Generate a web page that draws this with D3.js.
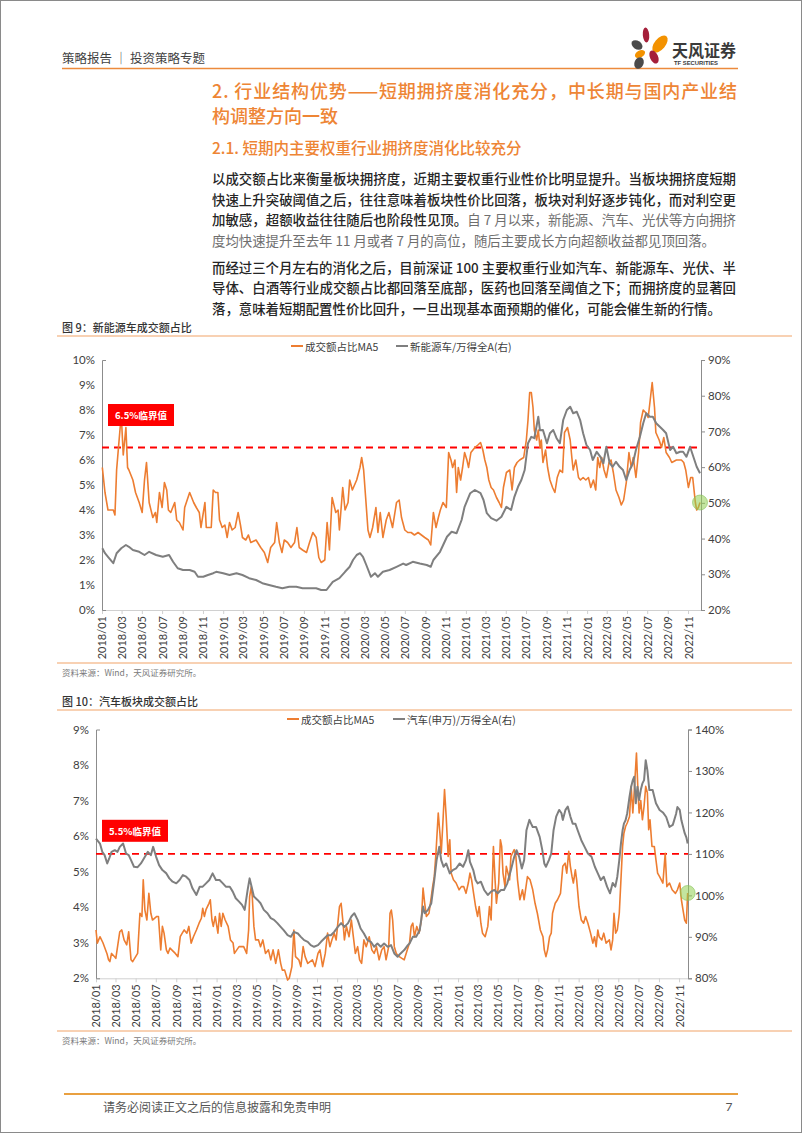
<!DOCTYPE html>
<html><head><meta charset="utf-8">
<script src="https://cdn.jsdelivr.net/npm/d3@7/dist/d3.min.js"></script>
<style>html,body{margin:0;padding:0;background:#fff}svg{display:block}</style>
</head><body>
<svg id="page" width="802" height="1133" xmlns="http://www.w3.org/2000/svg"></svg>
<script>
// ---------------- DATA ----------------
const xTickLabels = ["2018/01","2018/03","2018/05","2018/07","2018/09","2018/11","2019/01","2019/03","2019/05","2019/07","2019/09","2019/11","2020/01","2020/03","2020/05","2020/07","2020/09","2020/11","2021/01","2021/03","2021/05","2021/07","2021/09","2021/11","2022/01","2022/03","2022/05","2022/07","2022/09","2022/11"];
const leftTicks1 = [0,1,2,3,4,5,6,7,8,9,10];
const rightTicks1 = [20,30,40,50,60,70,80,90];
const leftTicks2 = [2,3,4,5,6,7,8,9];
const rightTicks2 = [80,90,100,110,120,130,140];
const legend1 = ["成交额占比MA5","新能源车/万得全A(右)"];
const legend2 = ["成交额占比MA5","汽车(申万)/万得全A(右)"];
const threshold1 = 6.5, threshold2 = 5.5;
const label1 = {text:"6.5%临界值", value:7.8};
const label2 = {text:"5.5%临界值", value:6.15};

// 图9 新能源车 成交额占比MA5 (%)
const nevShare = [["2018-01-02",5.7],["2018-01-10",4.7],["2018-01-19",4.0],["2018-02-04",4.0],["2018-02-09",3.8],["2018-02-14",5.6],["2018-02-19",6.4],["2018-02-26",7.5],["2018-02-28",7.8],["2018-03-06",6.2],["2018-03-14",7.3],["2018-03-19",5.7],["2018-03-23",5.6],["2018-04-04",5.2],["2018-04-12",4.7],["2018-04-23",4.3],["2018-05-02",3.9],["2018-05-09",5.2],["2018-05-15",5.9],["2018-05-23",4.3],["2018-06-03",3.7],["2018-06-11",3.9],["2018-06-15",3.5],["2018-06-23",4.7],["2018-07-01",4.1],["2018-07-08",5.1],["2018-07-15",4.8],["2018-07-20",4.0],["2018-07-27",3.9],["2018-08-08",4.3],["2018-08-14",3.6],["2018-08-22",3.5],["2018-09-02",3.2],["2018-09-07",4.1],["2018-09-22",4.7],["2018-10-04",4.3],["2018-10-12",4.1],["2018-10-21",3.9],["2018-10-26",3.3],["2018-11-07",4.3],["2018-11-11",3.3],["2018-11-26",3.3],["2018-12-02",4.8],["2018-12-09",4.7],["2018-12-16",4.7],["2018-12-21",3.6],["2018-12-29",3.3],["2019-01-06",3.4],["2019-01-13",2.9],["2019-01-20",3.5],["2019-01-28",3.2],["2019-02-06",3.3],["2019-02-15",3.9],["2019-02-22",3.4],["2019-02-28",2.9],["2019-03-10",2.8],["2019-03-18",3.0],["2019-03-25",2.7],["2019-04-10",2.8],["2019-04-24",2.5],["2019-05-05",2.3],["2019-05-15",1.9],["2019-05-24",2.5],["2019-06-05",2.7],["2019-06-11",3.5],["2019-06-19",2.7],["2019-06-27",2.3],["2019-07-04",2.8],["2019-07-14",2.7],["2019-07-24",2.5],["2019-08-04",2.7],["2019-08-11",3.3],["2019-08-18",2.5],["2019-08-28",2.4],["2019-09-09",2.3],["2019-09-18",2.7],["2019-09-28",3.1],["2019-10-08",2.9],["2019-10-16",2.1],["2019-10-23",1.9],["2019-11-03",2.0],["2019-11-10",3.5],["2019-11-17",2.4],["2019-11-25",4.5],["2019-12-06",3.9],["2019-12-13",4.0],["2019-12-17",3.2],["2019-12-27",4.9],["2020-01-03",4.0],["2020-01-12",4.3],["2020-01-17",5.2],["2020-01-25",4.8],["2020-02-07",5.2],["2020-02-17",5.7],["2020-02-22",6.1],["2020-02-28",5.6],["2020-03-05",4.5],["2020-03-12",3.2],["2020-03-18",2.9],["2020-03-26",3.3],["2020-04-05",4.1],["2020-04-11",3.1],["2020-04-18",3.9],["2020-04-26",2.9],["2020-05-06",3.6],["2020-05-14",3.9],["2020-05-25",3.3],["2020-06-06",4.3],["2020-06-14",4.4],["2020-06-21",3.7],["2020-07-01",3.2],["2020-07-10",3.1],["2020-07-20",3.1],["2020-07-30",3.0],["2020-08-10",3.1],["2020-08-20",3.0],["2020-08-30",2.9],["2020-09-10",2.8],["2020-09-17",2.6],["2020-09-25",3.9],["2020-10-03",3.3],["2020-10-10",3.7],["2020-10-16",4.0],["2020-10-24",4.3],["2020-11-03",4.1],["2020-11-10",6.3],["2020-11-17",6.0],["2020-11-22",5.7],["2020-11-29",6.0],["2020-12-04",4.7],["2020-12-09",5.7],["2020-12-16",5.2],["2020-12-22",5.7],["2020-12-28",6.3],["2021-01-04",6.0],["2021-01-09",5.7],["2021-01-16",6.3],["2021-01-28",6.5],["2021-02-06",6.6],["2021-02-14",6.7],["2021-02-21",6.4],["2021-02-27",6.0],["2021-03-05",5.7],["2021-03-11",5.2],["2021-03-18",4.9],["2021-03-25",4.8],["2021-04-03",4.5],["2021-04-11",4.3],["2021-04-18",4.1],["2021-04-24",4.9],["2021-05-03",5.5],["2021-05-13",5.6],["2021-05-20",4.8],["2021-05-27",5.7],["2021-06-04",5.9],["2021-06-12",6.0],["2021-06-24",6.1],["2021-07-02",6.8],["2021-07-07",7.6],["2021-07-12",8.7],["2021-07-17",8.7],["2021-07-22",8.1],["2021-07-26",7.2],["2021-08-02",6.8],["2021-08-07",7.2],["2021-08-12",6.5],["2021-08-16",6.8],["2021-08-21",5.9],["2021-08-29",6.4],["2021-09-04",5.7],["2021-09-11",5.2],["2021-09-19",4.9],["2021-09-26",4.7],["2021-10-03",5.3],["2021-10-11",5.6],["2021-10-19",5.5],["2021-10-25",7.1],["2021-11-03",7.3],["2021-11-11",6.8],["2021-11-16",6.1],["2021-11-20",5.6],["2021-11-28",6.0],["2021-12-06",5.3],["2021-12-12",5.2],["2021-12-20",5.3],["2021-12-28",5.2],["2022-01-05",5.3],["2022-01-12",4.9],["2022-01-20",5.2],["2022-01-27",4.8],["2022-02-02",6.1],["2022-02-08",5.7],["2022-02-14",6.1],["2022-02-21",5.6],["2022-02-28",5.3],["2022-03-08",5.9],["2022-03-14",6.0],["2022-03-21",5.5],["2022-03-29",4.8],["2022-04-07",4.5],["2022-04-14",4.2],["2022-04-21",4.4],["2022-04-29",5.1],["2022-05-07",6.3],["2022-05-14",5.7],["2022-05-20",6.1],["2022-05-28",5.3],["2022-06-05",6.3],["2022-06-11",7.5],["2022-06-19",8.0],["2022-06-26",7.9],["2022-07-04",7.7],["2022-07-10",8.4],["2022-07-16",9.1],["2022-07-23",8.1],["2022-07-27",7.1],["2022-08-06",6.8],["2022-08-13",6.5],["2022-08-20",6.9],["2022-08-27",6.3],["2022-09-06",6.1],["2022-09-13",5.9],["2022-09-27",6.0],["2022-10-12",6.0],["2022-10-19",5.9],["2022-10-25",5.6],["2022-11-02",4.9],["2022-11-09",5.3],["2022-11-15",5.3],["2022-11-19",4.8],["2022-11-23",4.3],["2022-11-27",4.0],["2022-12-02",4.1],["2022-12-07",4.3]];

// 图9 新能源车/万得全A (%, 右轴)
const nevRelative = [["2018-01-02",37.3],["2018-01-10",35.9],["2018-01-19",34.9],["2018-02-04",33.1],["2018-02-14",35.9],["2018-02-28",37.3],["2018-03-14",38.2],["2018-03-23",37.7],["2018-04-04",36.8],["2018-04-23",36.3],["2018-05-09",35.4],["2018-05-23",36.3],["2018-06-13",35.4],["2018-07-03",34.9],["2018-07-22",35.4],["2018-08-03",33.5],["2018-08-17",31.7],["2018-09-02",31.2],["2018-09-22",31.2],["2018-10-07",30.7],["2018-10-17",29.3],["2018-11-02",29.3],["2018-11-16",29.8],["2018-12-02",30.3],["2018-12-11",30.7],["2019-01-01",30.3],["2019-01-20",29.8],["2019-02-10",30.3],["2019-02-28",29.8],["2019-03-20",28.9],["2019-04-10",28.4],["2019-04-29",27.5],["2019-05-19",27.0],["2019-06-09",26.5],["2019-06-28",26.1],["2019-07-19",26.5],["2019-08-09",26.5],["2019-08-28",26.1],["2019-09-18",26.1],["2019-10-08",26.1],["2019-10-23",25.6],["2019-11-08",25.6],["2019-11-27",27.9],["2019-12-17",28.9],["2020-01-03",30.7],["2020-01-17",32.1],["2020-01-27",34.0],["2020-02-07",35.4],["2020-02-17",35.9],["2020-02-26",34.9],["2020-03-07",32.6],["2020-03-21",29.3],["2020-04-02",30.3],["2020-04-11",29.3],["2020-04-26",30.7],["2020-05-16",31.2],["2020-06-06",32.1],["2020-06-26",33.0],["2020-07-05",32.6],["2020-07-25",33.5],["2020-08-15",33.0],["2020-09-05",32.6],["2020-09-17",32.1],["2020-09-25",34.0],["2020-10-15",36.3],["2020-11-05",40.5],["2020-11-19",41.9],["2020-12-04",41.5],["2020-12-19",45.2],["2020-12-28",48.9],["2021-01-14",52.7],["2021-01-28",53.6],["2021-02-14",52.7],["2021-02-23",50.8],["2021-03-05",47.1],["2021-03-18",45.7],["2021-04-03",45.0],["2021-04-18",46.1],["2021-05-03",48.9],["2021-05-17",48.0],["2021-05-27",51.7],["2021-06-07",54.5],["2021-06-17",56.4],["2021-06-27",59.2],["2021-07-07",66.7],["2021-07-17",68.5],["2021-07-26",68.1],["2021-08-07",74.1],["2021-08-12",70.3],["2021-08-21",70.4],["2021-09-02",66.7],["2021-09-11",69.5],["2021-09-21",70.4],["2021-10-01",68.1],["2021-10-11",66.7],["2021-10-21",73.2],["2021-11-01",76.0],["2021-11-11",76.9],["2021-11-20",75.1],["2021-12-01",75.5],["2021-12-11",73.2],["2021-12-20",69.5],["2021-12-30",66.2],["2022-01-10",64.8],["2022-01-18",62.0],["2022-01-30",64.3],["2022-02-10",62.9],["2022-02-19",61.1],["2022-02-28",65.7],["2022-03-10",61.1],["2022-03-19",60.1],["2022-03-29",61.5],["2022-04-09",60.1],["2022-04-19",59.2],["2022-04-29",56.4],["2022-05-09",59.2],["2022-05-19",61.1],["2022-05-28",64.8],["2022-06-09",68.5],["2022-06-19",72.3],["2022-06-28",75.1],["2022-07-09",74.1],["2022-07-18",74.1],["2022-07-28",72.3],["2022-08-08",71.3],["2022-08-18",70.4],["2022-08-27",69.5],["2022-09-08",64.8],["2022-09-17",65.7],["2022-09-27",63.9],["2022-10-08",64.3],["2022-10-17",64.3],["2022-10-27",62.9],["2022-11-07",65.7],["2022-11-17",62.9],["2022-11-27",60.1],["2022-12-07",58.3]];

// 图10 汽车 成交额占比MA5 (%)
const autoShare = [["2018-01-01",3.36],["2018-01-05",2.99],["2018-01-13",3.17],["2018-01-22",3.0],["2018-02-03",2.7],["2018-02-08",2.52],["2018-02-12",2.47],["2018-02-17",2.7],["2018-02-27",2.6],["2018-03-02",2.56],["2018-03-14",3.31],["2018-03-20",3.36],["2018-03-27",3.08],["2018-04-04",2.94],["2018-04-10",3.31],["2018-04-17",2.52],["2018-04-22",2.47],["2018-05-07",2.7],["2018-05-14",3.83],["2018-05-20",3.74],["2018-05-24",4.77],["2018-05-29",3.92],["2018-06-04",3.64],["2018-06-10",4.39],["2018-06-16",3.83],["2018-06-21",3.64],["2018-07-04",3.74],["2018-07-09",3.74],["2018-07-16",2.8],["2018-07-21",3.46],["2018-07-26",3.27],["2018-08-02",2.8],["2018-08-07",2.7],["2018-08-13",2.85],["2018-08-29",2.7],["2018-09-06",2.61],["2018-09-13",3.17],["2018-09-19",3.27],["2018-09-25",3.36],["2018-10-03",3.27],["2018-10-09",3.46],["2018-10-16",2.99],["2018-10-23",3.17],["2018-11-01",3.36],["2018-11-09",3.55],["2018-11-16",3.69],["2018-11-20",3.97],["2018-11-25",3.74],["2018-11-30",3.93],["2018-12-09",4.11],["2018-12-13",4.21],["2018-12-18",3.64],["2018-12-22",3.46],["2018-12-28",3.74],["2019-01-05",3.27],["2019-01-10",3.83],["2019-01-15",3.46],["2019-01-20",3.83],["2019-01-27",3.64],["2019-02-05",3.46],["2019-02-12",3.08],["2019-02-20",2.99],["2019-02-24",2.7],["2019-03-10",2.89],["2019-03-24",2.89],["2019-04-02",2.7],["2019-04-08",3.36],["2019-04-11",4.3],["2019-04-16",4.58],["2019-04-19",4.3],["2019-04-24",3.46],["2019-04-29",3.08],["2019-05-08",3.08],["2019-05-14",2.89],["2019-05-21",3.08],["2019-05-29",2.7],["2019-06-07",2.8],["2019-06-14",2.52],["2019-06-21",2.8],["2019-06-29",2.42],["2019-07-07",2.8],["2019-07-14",2.42],["2019-07-19",2.23],["2019-07-26",2.23],["2019-08-04",1.95],["2019-08-09",2.0],["2019-08-17",2.33],["2019-08-23",3.36],["2019-08-28",2.61],["2019-09-07",2.52],["2019-09-13",2.33],["2019-09-20",2.89],["2019-09-26",2.61],["2019-10-04",2.42],["2019-10-18",2.52],["2019-10-26",2.33],["2019-11-04",2.7],["2019-11-10",2.8],["2019-11-18",2.33],["2019-11-26",2.7],["2019-12-03",3.27],["2019-12-10",2.89],["2019-12-16",3.08],["2019-12-23",3.27],["2019-12-29",3.08],["2020-01-08",4.02],["2020-01-13",4.11],["2020-01-18",3.64],["2020-01-23",3.08],["2020-01-29",3.46],["2020-02-06",3.17],["2020-02-13",3.64],["2020-02-19",3.17],["2020-02-25",2.7],["2020-03-03",2.89],["2020-03-09",2.52],["2020-03-15",2.42],["2020-03-22",3.08],["2020-03-29",2.89],["2020-04-07",3.17],["2020-04-15",2.8],["2020-04-22",2.7],["2020-04-29",2.89],["2020-05-07",2.52],["2020-05-15",2.8],["2020-05-22",2.89],["2020-05-28",2.52],["2020-06-05",2.89],["2020-06-09",3.83],["2020-06-13",3.92],["2020-06-17",3.64],["2020-06-22",2.89],["2020-06-28",2.7],["2020-07-07",2.61],["2020-07-22",2.52],["2020-08-02",2.85],["2020-08-07",2.99],["2020-08-12",3.46],["2020-08-17",3.55],["2020-08-22",3.17],["2020-08-29",3.46],["2020-09-05",3.27],["2020-09-12",3.64],["2020-09-17",4.54],["2020-09-22",4.11],["2020-09-27",3.74],["2020-10-05",3.83],["2020-10-12",4.3],["2020-10-16",4.58],["2020-10-21",4.86],["2020-10-26",5.52],["2020-11-02",6.65],["2020-11-07",6.08],["2020-11-11",5.52],["2020-11-16",6.37],["2020-11-21",7.31],["2020-11-26",6.55],["2020-12-02",5.43],["2020-12-07",5.9],["2020-12-11",4.96],["2020-12-18",4.77],["2020-12-26",4.68],["2021-01-04",4.49],["2021-01-11",4.58],["2021-01-18",4.58],["2021-01-25",4.39],["2021-02-01",4.68],["2021-02-06",4.96],["2021-02-11",4.77],["2021-02-17",4.39],["2021-02-23",4.02],["2021-03-01",3.74],["2021-03-06",4.02],["2021-03-11",3.55],["2021-03-16",3.27],["2021-03-24",3.17],["2021-04-01",3.46],["2021-04-06",4.02],["2021-04-11",3.64],["2021-04-18",5.71],["2021-04-23",4.77],["2021-04-27",4.11],["2021-05-04",4.68],["2021-05-09",5.9],["2021-05-13",5.71],["2021-05-17",4.96],["2021-05-23",4.58],["2021-05-27",5.15],["2021-06-06",4.77],["2021-06-10",5.43],["2021-06-20",5.62],["2021-06-25",5.43],["2021-06-30",4.77],["2021-07-07",4.21],["2021-07-15",4.49],["2021-07-20",4.21],["2021-07-30",4.86],["2021-08-07",4.77],["2021-08-15",4.49],["2021-08-22",4.11],["2021-08-29",3.83],["2021-09-07",3.36],["2021-09-15",3.17],["2021-09-19",2.8],["2021-09-24",2.61],["2021-09-29",2.8],["2021-10-05",3.17],["2021-10-10",3.27],["2021-10-14",3.83],["2021-10-22",4.11],["2021-10-29",4.21],["2021-11-07",4.39],["2021-11-14",5.15],["2021-11-21",5.24],["2021-11-26",4.96],["2021-12-02",5.57],["2021-12-07",5.15],["2021-12-12",4.86],["2021-12-16",4.68],["2021-12-22",5.05],["2021-12-26",4.77],["2022-01-02",4.02],["2022-01-09",3.64],["2022-01-16",3.55],["2022-01-22",3.74],["2022-01-29",3.55],["2022-02-06",3.27],["2022-02-13",2.99],["2022-02-18",3.17],["2022-02-23",2.89],["2022-02-28",3.36],["2022-03-04",3.17],["2022-03-12",3.08],["2022-03-18",3.27],["2022-03-25",2.99],["2022-04-04",3.08],["2022-04-09",2.8],["2022-04-14",3.08],["2022-04-18",3.83],["2022-04-23",3.27],["2022-04-28",3.36],["2022-05-04",3.83],["2022-05-09",4.77],["2022-05-14",5.71],["2022-05-18",6.08],["2022-05-23",6.27],["2022-05-28",6.37],["2022-06-04",6.55],["2022-06-09",7.4],["2022-06-14",6.65],["2022-06-18",7.22],["2022-06-25",8.34],["2022-06-29",7.4],["2022-07-03",6.65],["2022-07-08",7.0],["2022-07-13",6.46],["2022-07-18",6.84],["2022-07-23",7.4],["2022-07-28",7.22],["2022-08-01",6.18],["2022-08-05",6.46],["2022-08-11",5.71],["2022-08-18",5.71],["2022-08-23",5.33],["2022-08-28",4.96],["2022-09-03",4.86],["2022-09-13",4.68],["2022-09-20",5.52],["2022-09-25",4.58],["2022-10-03",4.68],["2022-10-11",4.49],["2022-10-21",4.39],["2022-10-27",4.49],["2022-11-03",4.68],["2022-11-08",4.21],["2022-11-13",3.92],["2022-11-18",3.64],["2022-11-23",3.55],["2022-11-27",4.4]];

// 图10 汽车(申万)/万得全A (%, 右轴)
const autoRelative = [["2018-01-01",113.7],["2018-01-13",112.5],["2018-01-20",110.5],["2018-01-27",109.7],["2018-02-04",107.7],["2018-02-10",108.9],["2018-02-17",110.5],["2018-02-27",110.9],["2018-03-07",110.5],["2018-03-14",111.7],["2018-03-24",112.5],["2018-04-02",110.1],["2018-04-10",109.7],["2018-04-17",108.5],["2018-04-26",106.9],["2018-05-07",106.8],["2018-05-17",107.7],["2018-05-26",108.9],["2018-06-07",110.5],["2018-06-16",109.7],["2018-06-23",111.7],["2018-07-02",109.3],["2018-07-11",107.3],["2018-07-21",106.1],["2018-08-02",105.3],["2018-08-11",104.1],["2018-08-21",103.3],["2018-09-01",102.9],["2018-09-11",103.7],["2018-09-21",104.9],["2018-10-01",104.5],["2018-10-11",103.7],["2018-10-20",101.7],["2018-11-01",100.1],["2018-11-11",102.1],["2018-11-20",102.1],["2018-11-30",102.9],["2018-12-10",103.7],["2018-12-20",105.3],["2018-12-30",103.7],["2019-01-10",103.7],["2019-01-20",102.9],["2019-01-29",102.1],["2019-02-10",102.1],["2019-02-19",100.9],["2019-02-28",99.3],["2019-03-10",98.5],["2019-03-19",97.7],["2019-03-27",96.5],["2019-04-05",101.3],["2019-04-11",104.1],["2019-04-17",102.1],["2019-04-24",99.7],["2019-05-05",98.9],["2019-05-14",98.1],["2019-05-24",96.5],["2019-06-04",95.7],["2019-06-14",94.5],["2019-06-24",94.1],["2019-07-04",93.3],["2019-07-14",92.4],["2019-07-23",91.6],["2019-08-04",90.4],["2019-08-14",90.0],["2019-08-23",91.2],["2019-09-04",90.8],["2019-09-13",90.0],["2019-09-23",89.2],["2019-10-04",88.8],["2019-10-13",88.0],["2019-10-23",87.6],["2019-11-04",88.0],["2019-11-13",88.8],["2019-11-23",89.6],["2019-12-03",90.4],["2019-12-13",90.4],["2019-12-23",91.2],["2020-01-03",92.4],["2020-01-13",93.3],["2020-01-23",92.4],["2020-02-03",93.3],["2020-02-13",94.9],["2020-02-22",95.7],["2020-03-03",94.1],["2020-03-12",92.0],["2020-03-22",90.8],["2020-04-02",89.2],["2020-04-12",88.8],["2020-04-22",87.6],["2020-05-02",88.4],["2020-05-12",87.6],["2020-05-22",88.4],["2020-06-02",87.6],["2020-06-12",88.0],["2020-06-22",86.0],["2020-07-02",85.2],["2020-07-11",86.0],["2020-07-22",86.8],["2020-08-02",88.0],["2020-08-07",88.4],["2020-08-17",90.0],["2020-08-27",90.0],["2020-09-07",91.6],["2020-09-17",97.3],["2020-09-22",95.7],["2020-10-02",96.5],["2020-10-12",98.1],["2020-10-21",103.7],["2020-10-28",108.5],["2020-11-05",111.7],["2020-11-11",108.5],["2020-11-18",106.9],["2020-11-26",107.7],["2020-12-07",105.3],["2020-12-16",106.1],["2020-12-26",106.5],["2021-01-06",107.7],["2021-01-16",106.9],["2021-01-25",108.5],["2021-02-01",110.9],["2021-02-06",108.1],["2021-02-16",106.1],["2021-02-23",103.7],["2021-03-01",102.9],["2021-03-11",103.3],["2021-03-21",101.3],["2021-04-01",100.1],["2021-04-11",100.9],["2021-04-21",101.3],["2021-05-01",100.5],["2021-05-11",101.3],["2021-05-20",101.3],["2021-05-30",102.9],["2021-06-10",106.1],["2021-06-20",109.3],["2021-06-27",110.9],["2021-07-05",109.3],["2021-07-13",106.5],["2021-07-20",108.5],["2021-07-27",115.7],["2021-08-05",118.2],["2021-08-10",117.3],["2021-08-15",116.5],["2021-08-25",116.5],["2021-09-05",114.1],["2021-09-13",110.9],["2021-09-19",107.7],["2021-09-24",106.9],["2021-10-03",108.5],["2021-10-10",110.1],["2021-10-17",115.7],["2021-10-25",119.0],["2021-11-03",120.6],["2021-11-10",119.8],["2021-11-14",118.2],["2021-11-22",120.6],["2021-11-29",121.4],["2021-12-07",119.0],["2021-12-14",117.3],["2021-12-22",117.3],["2021-12-29",115.7],["2022-01-09",113.3],["2022-01-19",111.7],["2022-01-29",110.1],["2022-02-09",109.3],["2022-02-19",106.9],["2022-02-28",105.3],["2022-03-09",103.7],["2022-03-18",104.5],["2022-03-28",102.1],["2022-04-06",100.5],["2022-04-14",103.0],["2022-04-22",102.1],["2022-04-28",104.5],["2022-05-04",108.5],["2022-05-09",112.5],["2022-05-14",115.7],["2022-05-18",117.3],["2022-05-23",118.1],["2022-05-28",119.8],["2022-06-04",123.8],["2022-06-09",126.2],["2022-06-14",127.8],["2022-06-18",128.6],["2022-06-23",122.2],["2022-06-28",126.2],["2022-07-03",123.0],["2022-07-08",125.4],["2022-07-13",127.0],["2022-07-18",127.8],["2022-07-23",132.6],["2022-07-28",130.2],["2022-08-03",125.4],["2022-08-13",125.4],["2022-08-18",123.8],["2022-08-23",122.2],["2022-09-03",120.6],["2022-09-13",120.0],["2022-09-23",118.9],["2022-10-03",116.5],["2022-10-13",117.0],["2022-10-23",119.7],["2022-10-27",121.3],["2022-11-03",120.6],["2022-11-08",118.1],["2022-11-18",115.0],["2022-11-23",114.0],["2022-11-27",112.5]];

// ---------------- RENDER ----------------
const parse = d3.timeParse("%Y-%m-%d");
const svg = d3.select("#page");
const CJK = "'Noto Sans CJK SC','Noto Sans',sans-serif";
const NUM = "Lato,'Noto Sans',sans-serif";
const ORANGE = "#ED7D31", GRAY = "#7F7F7F", TITLE = "#EE8535";

svg.append("rect").attr("x",0.5).attr("y",0.5).attr("width",801).attr("height",1132)
  .attr("fill","#fff").attr("stroke","#8a8a8a").attr("stroke-width",1);

// header
svg.append("text").attr("x",62).attr("y",57).attr("dominant-baseline","central")
  .attr("font-family",CJK).attr("font-size",12.5).attr("fill","#3f3f3f").text("策略报告 │ 投资策略专题");
svg.append("line").attr("x1",62).attr("x2",738).attr("y1",68.5).attr("y2",68.5)
  .attr("stroke","#EC8A3C").attr("stroke-width",1.6);

// logo
const petals = [
  {cx:646,cy:35,rx:3.2,ry:7.5,r:-5,c:"#A51F3A"},
  {cx:660,cy:44,rx:5.5,ry:10,r:40,c:"#F39200"},
  {cx:637,cy:45,rx:4.2,ry:6,r:-55,c:"#4A4A4A"},
  {cx:640,cy:54,rx:3.5,ry:5.5,r:60,c:"#F39200"},
  {cx:654,cy:57,rx:4,ry:7,r:-25,c:"#A51F3A"},
  {cx:639,cy:63,rx:4.5,ry:6,r:25,c:"#4A4A4A"}
];
petals.forEach(p=>svg.append("ellipse").attr("cx",p.cx).attr("cy",p.cy).attr("rx",p.rx).attr("ry",p.ry)
  .attr("transform",`rotate(${p.r},${p.cx},${p.cy})`).attr("fill",p.c));
svg.append("text").attr("x",672).attr("y",50).attr("dominant-baseline","central")
  .attr("font-family",CJK).attr("font-weight",700).attr("font-size",16.5).attr("fill","#3a3a3a")
  .attr("textLength",64).attr("lengthAdjust","spacingAndGlyphs").text("天风证券");
svg.append("text").attr("x",674).attr("y",63).attr("dominant-baseline","central")
  .attr("font-family","'Liberation Sans Narrow','Liberation Sans',sans-serif").attr("font-weight",700).attr("font-size",5.5).attr("fill","#3a3a3a")
  .attr("textLength",44).attr("lengthAdjust","spacingAndGlyphs").text("TF SECURITIES");

// titles
function para(y, segs, opts) {
  const t = svg.append("text").attr("x",opts.x||212).attr("y",y).attr("dominant-baseline","central")
    .attr("font-family",CJK).attr("font-size",opts.size).attr("font-weight",opts.weight||400);
  segs.forEach(s=>t.append("tspan").attr("fill",s[1]).attr("font-weight",s[2]||null).text(s[0]));
  if (opts.width) t.attr("textLength",opts.width).attr("lengthAdjust","spacing");
  return t;
}
para(90,[["2. 行业结构优势——短期拥挤度消化充分，中长期与国内产业结",TITLE]],{size:18,weight:500,width:525});
para(115,[["构调整方向一致",TITLE]],{size:18,weight:500});
para(147,[["2.1. 短期内主要权重行业拥挤度消化比较充分",TITLE]],{size:15.5,weight:500});

const DARK = "#262626", LIGHT = "#6f6f6f";
const W = 524, FS = 13.4;
para(178,[["以成交额占比来衡量板块拥挤度，近期主要权重行业性价比明显提升。当板块拥挤度短期",DARK,500]],{size:FS,width:W});
para(198.5,[["快速上升突破阈值之后，往往意味着板块性价比回落，板块对利好逐步钝化，而对利空更",DARK,500]],{size:FS,width:W});
para(219,[["加敏感，超额收益往往随后也阶段性见顶。",DARK,500],["自 7 月以来，新能源、汽车、光伏等方向拥挤",LIGHT]],{size:FS,width:W});
para(239.5,[["度均快速提升至去年 11 月或者 7 月的高位，随后主要成长方向超额收益都见顶回落。",LIGHT]],{size:FS});
para(266.5,[["而经过三个月左右的消化之后，目前深证 100 主要权重行业如汽车、新能源车、光伏、半",DARK,500]],{size:FS,width:W});
para(287,[["导体、白酒等行业成交额占比都回落至底部，医药也回落至阈值之下；而拥挤度的显著回",DARK,500]],{size:FS,width:W});
para(307.5,[["落，意味着短期配置性价比回升，一旦出现基本面预期的催化，可能会催生新的行情。",DARK,500]],{size:FS});

// ---------- chart drawer ----------
function drawChart(c) {
  const g = svg.append("g");
  // figure title + rules
  g.append("text").attr("x",62).attr("y",c.titleY).attr("dominant-baseline","central")
    .attr("font-family",CJK).attr("font-size",11).attr("font-weight",500).attr("fill","#333").text(c.title);
  g.append("line").attr("x1",57).attr("x2",792).attr("y1",c.titleY+9).attr("y2",c.titleY+9)
    .attr("stroke","#F6C29A").attr("stroke-width",1.3);
  g.append("line").attr("x1",57).attr("x2",792).attr("y1",c.sourceY-9).attr("y2",c.sourceY-9)
    .attr("stroke","#F6C29A").attr("stroke-width",1.3);
  g.append("text").attr("x",62).attr("y",c.sourceY).attr("dominant-baseline","central")
    .attr("font-family",CJK).attr("font-size",8.5).attr("fill","#7a7a7a").text("资料来源：Wind，天风证券研究所。");

  const x = d3.scaleTime().domain([parse(c.x0),parse(c.x1)]).range([c.left,c.right]);
  const yL = d3.scaleLinear().domain(c.leftDomain).range([c.bottom,c.top]);
  const yR = d3.scaleLinear().domain(c.rightDomain).range([c.bottom,c.top]);

  // x axis
  const xTicks = xTickLabels.map(s=>parse(s.replace("/","-")+"-01"));
  const xa = g.append("g").attr("transform",`translate(0,${c.bottom})`)
    .call(d3.axisBottom(x).tickValues(xTicks).tickFormat((d,i)=>xTickLabels[i]).tickSizeInner(4).tickSizeOuter(0));
  xa.select(".domain").attr("stroke","#d0d0d0");
  xa.selectAll(".tick line").attr("stroke","#d0d0d0");
  xa.selectAll("text").attr("transform","rotate(-90)").attr("text-anchor","end")
    .attr("x",-6).attr("y",0).attr("dy","0.36em")
    .attr("font-family",NUM).attr("font-size",11).attr("fill","#404040");

  // left axis
  const la = g.append("g").attr("transform",`translate(${c.left},0)`)
    .call(d3.axisLeft(yL).tickValues(c.leftTicks).tickFormat(d=>d+"%").tickSizeInner(0).tickSizeOuter(-4).tickPadding(7));
  la.select(".domain").attr("stroke","#8c8c8c");
  la.selectAll("text").attr("font-family",NUM).attr("font-size",11.5).attr("fill","#404040");

  // right axis
  const ra = g.append("g").attr("transform",`translate(${c.right},0)`)
    .call(d3.axisRight(yR).tickValues(c.rightTicks).tickFormat(d=>d+"%").tickSize(4).tickPadding(3));
  ra.select(".domain").attr("stroke","#8c8c8c");
  ra.selectAll(".tick line").attr("stroke","#8c8c8c");
  ra.selectAll("text").attr("font-family",NUM).attr("font-size",11.5).attr("fill","#404040");

  // threshold
  g.append("line").attr("x1",c.left).attr("x2",c.right).attr("y1",yL(c.threshold)).attr("y2",yL(c.threshold))
    .attr("stroke","#FF0000").attr("stroke-width",1.8).attr("stroke-dasharray","7,5");

  // series
  const share = c.share.map(d=>({d:parse(d[0]),v:d[1]}));
  const rel = c.rel.map(d=>({d:parse(d[0]),v:d[1]}));
  g.append("path").datum(share).attr("fill","none").attr("stroke",ORANGE).attr("stroke-width",1.6)
    .attr("stroke-linejoin","round").attr("d",d3.line().x(d=>x(d.d)).y(d=>yL(d.v)));
  g.append("path").datum(rel).attr("fill","none").attr("stroke",GRAY).attr("stroke-width",2)
    .attr("stroke-linejoin","round").attr("d",d3.line().x(d=>x(d.d)).y(d=>yR(d.v)));

  // label box
  const by = yL(c.label.value);
  g.append("rect").attr("x",c.left+6).attr("y",by-11).attr("width",66).attr("height",22).attr("fill","#FF0000");
  g.append("text").attr("x",c.left+39).attr("y",by).attr("text-anchor","middle").attr("dominant-baseline","central")
    .attr("font-family",CJK).attr("font-weight",700).attr("font-size",9.5).attr("fill","#fff").text(c.label.text);

  // highlight circle at last point
  const last = share[share.length-1];
  g.append("circle").attr("cx",x(last.d)).attr("cy",yL(last.v)).attr("r",7.5)
    .attr("fill","#92D050").attr("fill-opacity",0.55).attr("stroke","#86C25A").attr("stroke-opacity",0.6);

  // legend
  const lg = g.append("g");
  [[c.legendX[0],ORANGE,c.legend[0]],[c.legendX[1],GRAY,c.legend[1]]].forEach(([lx,col,txt])=>{
    lg.append("line").attr("x1",lx).attr("x2",lx+12).attr("y1",c.legendY).attr("y2",c.legendY)
      .attr("stroke",col).attr("stroke-width",2);
    lg.append("text").attr("x",lx+14).attr("y",c.legendY).attr("dominant-baseline","central")
      .attr("font-family",CJK).attr("font-size",10.5).attr("fill","#404040").text(txt);
  });
}

drawChart({title:"图 9：新能源车成交额占比", titleY:327, sourceY:672, legendY:346, legendX:[291,396],
  legend:legend1, left:102, right:701, top:360, bottom:610, x0:"2018-01-01", x1:"2022-12-10",
  leftDomain:[0,10], rightDomain:[20,90], leftTicks:leftTicks1, rightTicks:rightTicks1,
  share:nevShare, rel:nevRelative, threshold:threshold1, label:label1});

drawChart({title:"图 10：汽车板块成交额占比", titleY:701, sourceY:1040, legendY:719, legendX:[287,393],
  legend:legend2, left:96, right:688, top:729.5, bottom:978.3, x0:"2018-01-01", x1:"2022-11-28",
  leftDomain:[2,9], rightDomain:[80,140], leftTicks:leftTicks2, rightTicks:rightTicks2,
  share:autoShare, rel:autoRelative, threshold:threshold2, label:label2});

// footer
svg.append("line").attr("x1",64).attr("x2",738).attr("y1",1094).attr("y2",1094)
  .attr("stroke","#E9A040").attr("stroke-width",2);
svg.append("text").attr("x",103).attr("y",1106).attr("dominant-baseline","central")
  .attr("font-family",CJK).attr("font-size",12).attr("fill","#555").text("请务必阅读正文之后的信息披露和免责申明");
svg.append("text").attr("x",729).attr("y",1106).attr("text-anchor","middle").attr("dominant-baseline","central")
  .attr("font-family",NUM).attr("font-size",12).attr("fill","#555").text("7");
</script>
</body></html>
